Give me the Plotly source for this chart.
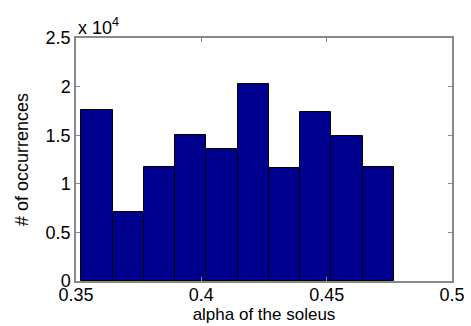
import plotly.graph_objects as go

# Histogram data (bin centers and counts)
bin_centers = [0.35834, 0.37082, 0.38329, 0.39577, 0.40825,
               0.42073, 0.43320, 0.44568, 0.45816, 0.47063]
counts = [17560, 7100, 11760, 14990, 13550,
          20240, 11590, 17390, 14890, 11700]
bin_width = 0.012477

x_tickvals = [0.35, 0.4, 0.45, 0.5]
x_ticktext = ["0.35", "0.4", "0.45", "0.5"]
y_tickvals = [0, 5000, 10000, 15000, 20000, 25000]
y_ticktext = ["0", "0.5", "1", "1.5", "2", "2.5"]

FONT = "Arial, Liberation Sans, sans-serif"

fig = go.Figure(go.Bar(
    x=bin_centers, y=counts, width=[bin_width] * len(counts),
    marker=dict(color="rgb(0,0,143)", line=dict(color="black", width=1)),
))

axis_common = dict(
    showgrid=False, zeroline=False, showline=True, linecolor="#8a8a8a",
    linewidth=1.5, mirror="ticks", ticks="inside", ticklen=4,
    tickcolor="#8a8a8a", tickwidth=1,
)

fig.update_layout(
    width=471, height=326,
    margin=dict(l=76, r=19, t=38, b=45),
    paper_bgcolor="white", plot_bgcolor="white",
    showlegend=False, bargap=0,
    xaxis=dict(range=[0.35, 0.5], tickvals=x_tickvals, ticktext=x_ticktext,
               tickfont=dict(family=FONT, size=18, color="black"),
               ticklabelstandoff=-3,
               title=dict(text="alpha of the soleus",
                          font=dict(family=FONT, size=17, color="black"),
                          standoff=4),
               automargin=False, **axis_common),
    yaxis=dict(range=[0, 25000], tickvals=y_tickvals, ticktext=y_ticktext,
               tickfont=dict(family=FONT, size=18, color="black"),
               title=dict(text="# of occurrences",
                          font=dict(family=FONT, size=18, color="black"),
                          standoff=12),
               automargin=False, **axis_common),
    annotations=[dict(text="x 10<sup>4</sup>", xref="paper", yref="paper",
                      x=0, y=1, xanchor="left", yanchor="bottom",
                      showarrow=False, yshift=-2,
                      font=dict(family=FONT, size=18, color="black"))],
)

fig.write_html("out.html")
